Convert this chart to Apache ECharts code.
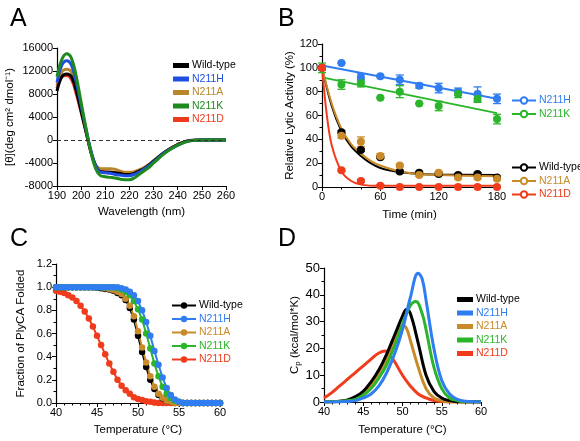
<!DOCTYPE html>
<html><head><meta charset="utf-8">
<script src="https://cdn.jsdelivr.net/npm/echarts@6/dist/echarts.min.js"></script>
<style>html,body{margin:0;background:#fff}#c{width:580px;height:441px}</style>
</head><body><div id="c"></div>
<script>
const NAMES = ['Wild-type', 'N211H', 'N211A', 'N211K', 'N211D'];
const COLORS = {'Wild-type': '#000000', N211H: '#1f4fe0', N211A: '#b8862b', N211K: '#1e8a1e', N211D: '#ee3a1e'};
const COLORS_BC = {'Wild-type': '#000000', N211H: '#2f7df0', N211A: '#c98a2a', N211K: '#2bb52b', N211D: '#f03c1c'};

// Panel A: CD spectra
const waveA = [190,192,194,196,198,200,202,204,206,208,210,212,214,216,218,220,222,224,226,228,230,235,240,245,250,255,260];
const cdA = {
  'Wild-type': [8500,11000,11500,11000,8500,5000,1500,-2000,-4500,-5500,-5600,-5600,-5700,-5800,-6000,-6000,-5800,-5400,-5000,-4400,-3700,-2000,-800,-100,0,0,0],
  N211H: [10000,13000,13800,13000,10000,6000,2000,-1800,-4500,-5600,-5700,-5800,-6000,-6100,-6200,-6200,-6000,-5600,-5100,-4500,-3800,-2100,-900,-150,0,0,0],
  N211A: [9000,11800,12300,11800,9000,5500,1600,-2000,-4300,-5000,-5000,-5000,-5100,-5400,-5600,-5600,-5500,-5200,-4800,-4300,-3600,-2000,-800,-100,0,0,0],
  N211K: [11000,14000,15000,14200,11000,6500,2000,-2000,-5000,-6200,-6400,-6500,-6600,-6800,-6900,-6900,-6600,-6000,-5400,-4800,-4000,-2200,-900,-150,0,0,0],
  N211D: [9500,11000,11200,10500,8000,4800,1400,-2000,-4500,-5400,-5500,-5600,-5700,-5800,-5900,-5900,-5700,-5300,-4900,-4300,-3700,-2000,-800,-100,0,0,0]
};

// Panel B: lytic activity
const timeB = [0,20,40,60,80,100,120,140,160,180];
const actB = {
  'Wild-type': [100,46,31,25,13,12,11,10,11,8],
  N211H: [100,104,92,93,90,85,83,80,78,74],
  N211A: [100,43,38,26,18,10,12,8,8,7],
  N211K: [100,86,87,75,80,70,68,78,74,57],
  N211D: [100,14,5,1,0,0,0,0,0,0]
};
const errB = {
  'Wild-type': [0,1,1,1,1,1,1,1,1,1],
  N211H: [2,0,3,1,4,2,4,3,6,4],
  N211A: [0,2,4,2,1,1,1,1,1,1],
  N211K: [4,4,3,0,5,0,4,3,3,4],
  N211D: [0,1,1,1,0,0,0,0,0,0]
};
const fitB = {
  'Wild-type': [[0,100],[10,68],[20,47],[30,34],[40,26],[50,20],[60,16],[80,12.5],[100,11],[120,10.5],[180,10]],
  N211A: [[0,100],[10,70],[20,49],[30,36],[40,28],[50,22],[60,18],[80,13],[100,11],[120,10],[180,9]],
  N211D: [[0,100],[5,60],[10,35],[20,13],[30,5],[40,2],[60,1],[180,1]],
  N211H: [[0,102],[180,74]],
  N211K: [[0,92],[180,62]]
};

// Panel C: fraction folded
const tempC = [];
for (let t = 40; t <= 60; t += 0.5) tempC.push(t);
const foldC = {
  'Wild-type': [1,1,1,1,1,1,1,1,1,1, 0.995,0.99,0.985,0.98,0.97,0.95,0.93,0.89,0.82,0.72, 0.58,0.44,0.31,0.2,0.12,0.07,0.04,0.02,0.01,0, 0,0,0,0,0,0,0,0,0,0,0],
  N211H: [1,1,1,1,1,1,1,1,1,1, 1,1,1,1,1,1,0.99,0.98,0.96,0.93, 0.88,0.8,0.7,0.58,0.45,0.33,0.22,0.13,0.07,0.03, 0.01,0,0,0,0,0,0,0,0,0,0],
  N211A: [1,1,1,1,1,1,1,1,1,1, 1,1,0.99,0.985,0.975,0.96,0.94,0.9,0.84,0.75, 0.62,0.48,0.35,0.23,0.14,0.08,0.045,0.02,0.01,0, 0,0,0,0,0,0,0,0,0,0,0],
  N211K: [1,1,1,1,1,1,1,1,1,1, 1,1,1,1,1,0.99,0.98,0.96,0.93,0.88, 0.81,0.72,0.6,0.47,0.34,0.23,0.14,0.08,0.04,0.02, 0.01,0,0,0,0,0,0,0,0,0,0],
  N211D: [0.97,0.96,0.95,0.93,0.91,0.88,0.84,0.79,0.73,0.66, 0.58,0.5,0.42,0.34,0.27,0.2,0.15,0.11,0.08,0.05, 0.035,0.025,0.015,0.01,0.005,0,0,0,0,0, 0,0,0,0,0,0,0,0,0,0,0]
};

// Panel D: DSC
const dscD = {
  'Wild-type': [[40,0],[41,0.1],[42,0.3],[43,0.8],[44,2],[45,4],[46,7.5],[47,12],[48,18],[49,25],[50,32],[50.5,34.5],[51,33],[52,22],[53,10],[54,4],[55,1.5],[56,0.5],[57,0.1],[58,0],[60,0]],
  N211H: [[40,0],[43,0.2],[44,0.5],[45,1.5],[46,3],[47,6],[48,11],[49,18],[50,27],[51,39],[52,48],[52.5,46],[53,38],[54,20],[55,8],[56,3],[57,1],[58,0.3],[60,0]],
  N211A: [[40,0],[43,0.5],[44,1.5],[45,3.5],[46,6.5],[47,11],[48,16],[49,23],[50,28.5],[50.5,27.5],[51,23],[52,13],[53,5],[54,1.5],[55,0.5],[56,0],[60,0]],
  N211K: [[40,0],[43,0.5],[44,1],[45,2.5],[46,5],[47,9],[48,14],[49,21],[50,29],[51,36],[51.7,37.5],[52.5,33],[53,27],[54,13],[55,5],[56,1.5],[57,0.5],[58,0],[60,0]],
  N211D: [[40,1.5],[41,3.5],[42,6],[43,8.5],[44,11],[45,13.5],[46,16],[47,18.3],[47.8,19],[48.5,17],[49,15],[50,10],[51,6],[52,3],[53,1.5],[54,0.5],[55,0.2],[56,0],[60,0]]
};

const FONT = 'Arial, "Liberation Sans", sans-serif';
const chart = echarts.init(document.getElementById('c'));

function axis(gi, o) {
  return Object.assign({
    gridIndex: gi, type: 'value', splitLine: {show: false},
    axisLine: {onZero: false, lineStyle: {color: '#000', width: 1.2}},
    axisTick: {length: 4, lineStyle: {color: '#000'}},
    axisLabel: {color: '#000', fontSize: 11, fontFamily: FONT, margin: 4},
    nameLocation: 'middle', nameTextStyle: {color: '#000', fontSize: 11.5, fontFamily: FONT}
  }, o);
}
const minor = n => ({show: true, splitNumber: n, length: 2.5, lineStyle: {color: '#000'}});

const series = [];
const tag = (n, p) => n + '|' + p;

['N211D', 'N211A', 'Wild-type', 'N211H', 'N211K'].forEach(n => {
  series.push({name: tag(n, 'A'), type: 'line', xAxisIndex: 0, yAxisIndex: 0, smooth: 0.4, showSymbol: false,
    lineStyle: {width: 3, color: COLORS[n]}, itemStyle: {color: COLORS[n]},
    data: waveA.map((w, i) => [w, cdA[n][i]]),
    markLine: n === 'N211K' ? {silent: true, symbol: 'none', label: {show: false},
      lineStyle: {type: [4, 3], color: '#333', width: 1.2}, data: [{yAxis: 0}]} : undefined, z: 3});
});

['N211H', 'N211K', 'Wild-type', 'N211A', 'N211D'].forEach(n => {
  const c = COLORS_BC[n];
  series.push({name: tag(n, 'B'), type: 'line', xAxisIndex: 1, yAxisIndex: 1, smooth: 0.3, showSymbol: false,
    lineStyle: {width: 2, color: c}, itemStyle: {color: c}, data: fitB[n], z: 2});
  series.push({name: tag(n, 'B'), type: 'scatter', xAxisIndex: 1, yAxisIndex: 1, symbolSize: 8,
    itemStyle: {color: c, opacity: 1}, data: timeB.map((t, i) => [t, actB[n][i]]), z: 4});
  series.push({type: 'custom', xAxisIndex: 1, yAxisIndex: 1, z: 3,
    data: timeB.map((t, i) => [t, actB[n][i] - errB[n][i], actB[n][i] + errB[n][i]]),
    renderItem: (params, api) => {
      const lo = api.coord([api.value(0), api.value(1)]);
      const hi = api.coord([api.value(0), api.value(2)]);
      const s = {stroke: c, lineWidth: 1.3};
      return {type: 'group', children: [
        {type: 'line', shape: {x1: lo[0], y1: lo[1], x2: hi[0], y2: hi[1]}, style: s},
        {type: 'line', shape: {x1: lo[0] - 4, y1: lo[1], x2: lo[0] + 4, y2: lo[1]}, style: s},
        {type: 'line', shape: {x1: hi[0] - 4, y1: hi[1], x2: hi[0] + 4, y2: hi[1]}, style: s}
      ]};
    }});
});

['N211D', 'Wild-type', 'N211A', 'N211K', 'N211H'].forEach(n => {
  const c = COLORS_BC[n];
  series.push({name: tag(n, 'C'), type: 'line', xAxisIndex: 2, yAxisIndex: 2, symbol: 'circle', symbolSize: 6.5,
    lineStyle: {width: 2, color: c}, itemStyle: {color: c}, data: tempC.map((t, i) => [t, foldC[n][i]])});
});

['N211D', 'N211A', 'Wild-type', 'N211K', 'N211H'].forEach(n => {
  const c = COLORS_BC[n];
  series.push({name: tag(n, 'D'), type: 'line', xAxisIndex: 3, yAxisIndex: 3, smooth: 0.4, showSymbol: false,
    lineStyle: {width: 3, color: c}, itemStyle: {color: c}, data: dscD[n]});
});

function legend(p, left, top, icon, colors, names) {
  return {left, top, orient: 'vertical', itemGap: 2.5, itemWidth: icon ? 16 : 24, itemHeight: icon ? 5 : 8,
    icon: icon, selectedMode: false, formatter: s => s.split('|')[0],
    textStyle: {fontSize: 10.5, fontFamily: FONT, padding: [0, 0, 0, -2]},
    data: names.map(n => ({name: tag(n, p),
      itemStyle: {color: colors[n], borderColor: colors[n]},
      textStyle: {color: n === 'Wild-type' ? '#000' : colors[n]}}))};
}

const titles = [['A', 5, 2], ['B', 273, 2], ['C', 5, 222], ['D', 273, 222]].map(([t, l, tp]) =>
  ({text: t, left: l, top: tp, textStyle: {fontSize: 25, fontWeight: 'normal', color: '#000', fontFamily: FONT}}));

chart.setOption({
  animation: false,
  title: titles,
  grid: [
    {left: 57, top: 48, width: 169, height: 138},
    {left: 322, top: 44, width: 175, height: 143},
    {left: 56, top: 264, width: 164, height: 139},
    {left: 324, top: 268, width: 157, height: 134}
  ],
  legend: [
    legend('A', 168, 55, 'rect', COLORS, NAMES),
    legend('B', 506, 90, null, COLORS_BC, ['N211H', 'N211K']),
    legend('B', 506, 157, null, COLORS_BC, ['Wild-type', 'N211A', 'N211D']),
    legend('C', 166, 295, null, COLORS_BC, NAMES),
    legend('D', 452, 289, 'rect', COLORS_BC, NAMES)
  ],
  xAxis: [
    axis(0, {min: 190, max: 260, interval: 10, name: 'Wavelength (nm)', nameGap: 20}),
    axis(1, {min: 0, max: 180, interval: 60, name: 'Time (min)', nameGap: 22, minorTick: minor(3)}),
    axis(2, {min: 40, max: 60, interval: 5, name: 'Temperature (°C)', nameGap: 21, minorTick: minor(5)}),
    axis(3, {min: 40, max: 60, interval: 5, name: 'Temperature (°C)', nameGap: 22, minorTick: minor(5)})
  ],
  yAxis: [
    axis(0, {min: -8000, max: 16000, interval: 4000, name: '[θ](deg cm² dmol⁻¹)', nameGap: 41,
      axisLabel: {color: '#000', fontSize: 11, fontFamily: FONT, margin: 4, formatter: v => String(v)}}),
    axis(1, {min: 0, max: 120, interval: 20, name: 'Relative Lytic Activity (%)', nameGap: 22, minorTick: minor(2)}),
    axis(2, {min: 0, max: 1.2, interval: 0.2, name: 'Fraction of PlyCA Folded', nameGap: 29, minorTick: minor(2),
      axisLabel: {color: '#000', fontSize: 11, fontFamily: FONT, margin: 4, formatter: v => v.toFixed(1)}}),
    axis(3, {min: 0, max: 50, interval: 10, name: 'C{s|p} (kcal/mol*K)', nameGap: 22, minorTick: minor(2),
      axisLabel: {color: '#000', fontSize: 13, fontFamily: FONT, margin: 4},
      nameTextStyle: {color: '#000', fontSize: 11.5, fontFamily: FONT, rich: {s: {fontSize: 8, verticalAlign: 'bottom', padding: [6, 0, 0, 0]}}}})
  ],
  series
});
</script></body></html>
